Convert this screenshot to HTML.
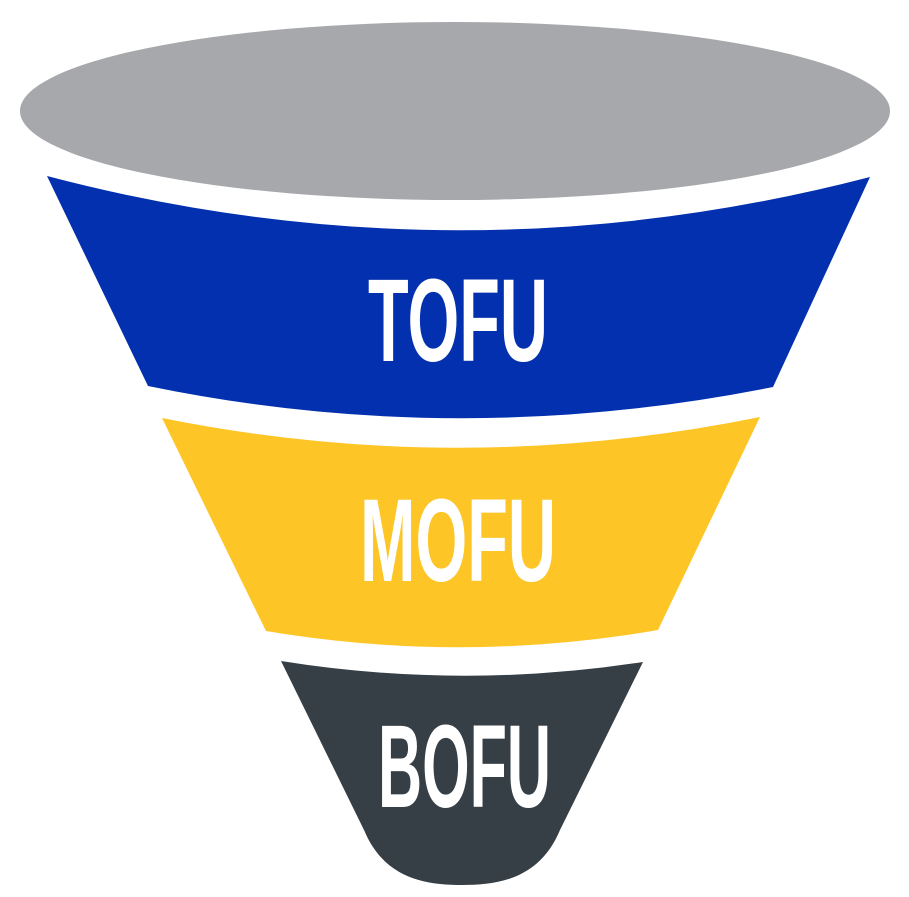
<!DOCTYPE html>
<html><head><meta charset="utf-8"><style>html,body{margin:0;padding:0;background:#fff;}svg{display:block;}</style></head>
<body>
<svg width="909" height="897" viewBox="0 0 909 897" xmlns="http://www.w3.org/2000/svg">
<ellipse cx="455" cy="111" rx="435" ry="89" fill="#a6a8ab"/>
<path d="M47,176 Q458,284 870,177 L773,387 Q458,450 148,386 Z" fill="#0330ae"/>
<path d="M162,418 Q460,478 760,417 L658,630 Q462,664 266,631 Z" fill="#fdc526"/>
<path d="M281,661 Q462,690 643,662 L560,830 C540,878 500,885 462,885 C424,885 384,878 364,830 Z" fill="#373f46"/>
<g font-family="'Liberation Sans Narrow','Liberation Sans',sans-serif" font-weight="bold" fill="#fff" font-size="118">
<text x="368" y="361" textLength="180" lengthAdjust="spacingAndGlyphs">TOFU</text>
<text x="360" y="581" textLength="196" lengthAdjust="spacingAndGlyphs">MOFU</text>
<text x="378" y="807" textLength="173" lengthAdjust="spacingAndGlyphs">BOFU</text>
</g>
</svg>
</body></html>
